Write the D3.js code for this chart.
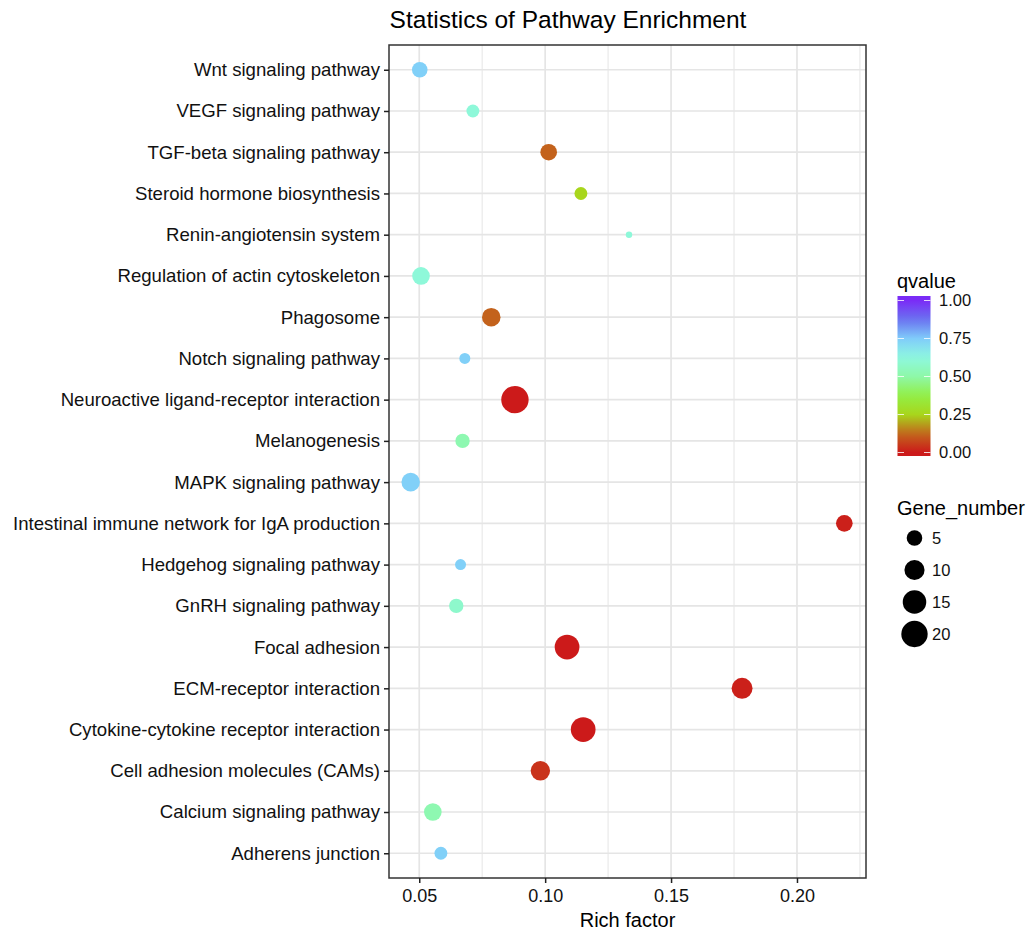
<!DOCTYPE html>
<html>
<head>
<meta charset="utf-8">
<script src="https://cdn.jsdelivr.net/npm/d3@7"></script>
<style>
  html, body { margin: 0; padding: 0; background: #fff; }
  svg { display: block; }
  text { font-family: "Liberation Sans", Arial, Helvetica, sans-serif; }
</style>
</head>
<body>
<svg id="chart" width="1030" height="930"></svg>
<script>
// ---------------- data ----------------
const pathways = [
  "Wnt signaling pathway",
  "VEGF signaling pathway",
  "TGF-beta signaling pathway",
  "Steroid hormone biosynthesis",
  "Renin-angiotensin system",
  "Regulation of actin cytoskeleton",
  "Phagosome",
  "Notch signaling pathway",
  "Neuroactive ligand-receptor interaction",
  "Melanogenesis",
  "MAPK signaling pathway",
  "Intestinal immune network for IgA production",
  "Hedgehog signaling pathway",
  "GnRH signaling pathway",
  "Focal adhesion",
  "ECM-receptor interaction",
  "Cytokine-cytokine receptor interaction",
  "Cell adhesion molecules (CAMs)",
  "Calcium signaling pathway",
  "Adherens junction"
];
const richFactor = [0.0502, 0.0713, 0.1014, 0.1142, 0.1333, 0.0507, 0.0786, 0.0681, 0.0880, 0.0672,
                    0.0466, 0.2188, 0.0664, 0.0647, 0.1087, 0.1782, 0.1151, 0.0981, 0.0554, 0.0586];
const qvalue     = [0.74, 0.61, 0.115, 0.25, 0.61, 0.61, 0.115, 0.74, 0.00, 0.52,
                    0.74, 0.01, 0.74, 0.58, 0.00, 0.01, 0.00, 0.04, 0.52, 0.74];
const geneNumber = [5, 3, 6, 3, 1, 7, 8, 2, 22, 4,
                    8, 6, 2, 4, 17, 11, 17, 9, 7, 3];

const xTicks = [0.05, 0.10, 0.15, 0.20];
const xMinorTicks = [0.075, 0.125, 0.175, 0.225];
const qTicks = [0, 0.25, 0.5, 0.75, 1];
const sizeBreaks = [5, 10, 15, 20];

// colour gradient stops (qvalue -> colour)
const colorStops = [0, 0.125, 0.25, 0.375, 0.5, 0.625, 0.75, 0.875, 1];
const colorValues = ["#cc1a1a", "#c2681c", "#a8d61c", "#92ef46", "#8ef8a8", "#8ef8e0", "#80ccfa", "#6a72f0", "#7a2cf6"];

// ---------------- layout ----------------
const svg = d3.select("#chart");
const panel = { left: 389, right: 866, top: 45, bottom: 878 };

const ext = d3.extent(richFactor);
const pad = 0.05 * (ext[1] - ext[0]);
const x = d3.scaleLinear().domain([ext[0] - pad, ext[1] + pad]).range([panel.left, panel.right]);
const y = d3.scalePoint().domain(pathways).range([panel.top, panel.bottom]).padding(0.6);

const gExt = d3.extent(geneNumber);
const rUnit = d3.scaleLinear().domain([0, 1]).range([3.2, 13.7]);
const r = g => rUnit(Math.sqrt((g - gExt[0]) / (gExt[1] - gExt[0])));

const color = d3.scaleLinear().domain(colorStops).range(colorValues).interpolate(d3.interpolateRgb).clamp(true);

svg.append("rect").attr("width", 1030).attr("height", 930).attr("fill", "#fff");

// grid
const grid = svg.append("g");
grid.selectAll("line.minor").data(xMinorTicks).join("line")
  .attr("x1", d => x(d)).attr("x2", d => x(d))
  .attr("y1", panel.top).attr("y2", panel.bottom)
  .attr("stroke", "#ebebeb").attr("stroke-width", 1.3);
grid.selectAll("line.majx").data(xTicks).join("line")
  .attr("x1", d => x(d)).attr("x2", d => x(d))
  .attr("y1", panel.top).attr("y2", panel.bottom)
  .attr("stroke", "#e5e5e5").attr("stroke-width", 1.7);
grid.selectAll("line.majy").data(pathways).join("line")
  .attr("x1", panel.left).attr("x2", panel.right)
  .attr("y1", d => y(d)).attr("y2", d => y(d))
  .attr("stroke", "#e5e5e5").attr("stroke-width", 1.7);

// points
const pts = pathways.map((p, i) => ({ p, rf: richFactor[i], q: qvalue[i], g: geneNumber[i] }));
svg.append("g").selectAll("circle").data(pts).join("circle")
  .attr("cx", d => x(d.rf)).attr("cy", d => y(d.p))
  .attr("r", d => r(d.g))
  .attr("fill", d => color(d.q));

// panel border
svg.append("rect")
  .attr("x", panel.left).attr("y", panel.top)
  .attr("width", panel.right - panel.left).attr("height", panel.bottom - panel.top)
  .attr("fill", "none").attr("stroke", "#333").attr("stroke-width", 1.5);

// axes
const yAxis = d3.axisLeft(y).tickSize(5).tickPadding(4);
const gy = svg.append("g").attr("transform", `translate(${panel.left},0)`).call(yAxis);
gy.select(".domain").remove();
gy.selectAll(".tick line").attr("stroke", "#222").attr("stroke-width", 1.5);
gy.selectAll(".tick text").attr("fill", "#111").style("font-size", "18.6px")
  .style("font-family", '"Liberation Sans", Arial, sans-serif');

const xAxis = d3.axisBottom(x).tickValues(xTicks).tickFormat(d3.format(".2f")).tickSize(5).tickPadding(6);
const gx = svg.append("g").attr("transform", `translate(0,${panel.bottom})`).call(xAxis);
gx.select(".domain").remove();
gx.selectAll(".tick line").attr("stroke", "#222").attr("stroke-width", 1.5);
gx.selectAll(".tick text").attr("fill", "#111").style("font-size", "18px")
  .style("font-family", '"Liberation Sans", Arial, sans-serif');

// titles
svg.append("text").attr("x", 568).attr("y", 28).attr("text-anchor", "middle")
  .style("font-size", "24.5px").attr("fill", "#000").text("Statistics of Pathway Enrichment");
svg.append("text").attr("x", (panel.left + panel.right) / 2).attr("y", 927).attr("text-anchor", "middle")
  .style("font-size", "20px").attr("fill", "#000").text("Rich factor");

// colour legend
const bar = { x: 897.5, w: 33, top: 296, bottom: 456 };
const qy = d3.scaleLinear().domain([0, 1]).range([452.5, 300.5]);
svg.append("text").attr("x", 897).attr("y", 288).style("font-size", "20px").attr("fill", "#000").text("qvalue");
const defs = svg.append("defs");
const grad = defs.append("linearGradient").attr("id", "qgrad")
  .attr("gradientUnits", "userSpaceOnUse")
  .attr("x1", 0).attr("x2", 0).attr("y1", qy(0)).attr("y2", qy(1));
d3.range(0, 1.0001, 0.05).forEach(t => {
  grad.append("stop").attr("offset", t).attr("stop-color", color(t));
});
svg.append("rect").attr("x", bar.x).attr("y", bar.top).attr("width", bar.w).attr("height", bar.bottom - bar.top)
  .attr("fill", "url(#qgrad)");
const qt = svg.append("g");
qt.selectAll("line.l").data(qTicks).join("line")
  .attr("x1", bar.x).attr("x2", bar.x + 6.5).attr("y1", d => qy(d)).attr("y2", d => qy(d))
  .attr("stroke", "#fff").attr("stroke-width", 1).attr("opacity", 0.8);
qt.selectAll("line.r").data(qTicks).join("line")
  .attr("x1", bar.x + bar.w - 6.5).attr("x2", bar.x + bar.w).attr("y1", d => qy(d)).attr("y2", d => qy(d))
  .attr("stroke", "#fff").attr("stroke-width", 1).attr("opacity", 0.8);
qt.selectAll("text").data(qTicks).join("text")
  .attr("x", 939).attr("y", d => qy(d)).attr("dy", "0.36em")
  .style("font-size", "16.5px").attr("fill", "#111").text(d => d3.format(".2f")(d));

// size legend
svg.append("text").attr("x", 897).attr("y", 515).style("font-size", "20px").attr("fill", "#000").text("Gene_number");
const keyY = d3.scalePoint().domain(sizeBreaks).range([538, 634]);
const sl = svg.append("g");
sl.selectAll("circle").data(sizeBreaks).join("circle")
  .attr("cx", 914.5).attr("cy", d => keyY(d)).attr("r", d => r(d)).attr("fill", "#000");
sl.selectAll("text").data(sizeBreaks).join("text")
  .attr("x", 932).attr("y", d => keyY(d)).attr("dy", "0.36em")
  .style("font-size", "16.5px").attr("fill", "#111").text(d => d);
</script>
</body>
</html>
